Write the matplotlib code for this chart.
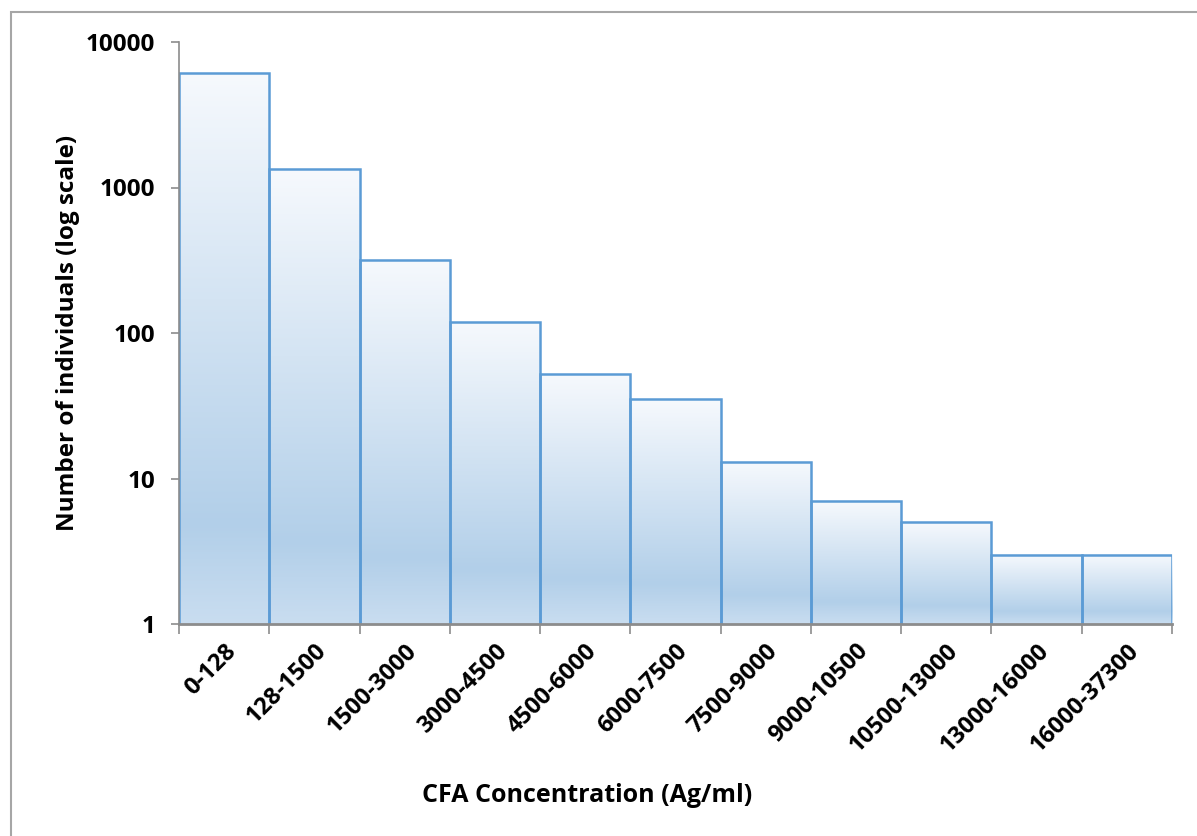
import numpy as np
import matplotlib
matplotlib.use("Agg")
import matplotlib.pyplot as plt
from matplotlib.colors import LinearSegmentedColormap
from matplotlib.patches import Rectangle
from matplotlib.transforms import Bbox, TransformedBbox, BboxTransformTo

# CFA concentration classes and counts of individuals
categories = ["0-128", "128-1500", "1500-3000", "3000-4500", "4500-6000",
              "6000-7500", "7500-9000", "9000-10500", "10500-13000",
              "13000-16000", "16000-37300"]
counts = [6100, 1340, 318, 119, 52, 35, 13, 7, 5, 3, 3]
y_ticks = [1, 10, 100, 1000, 10000]
y_tick_labels = ["1", "10", "100", "1000", "10000"]

plt.rcParams["font.family"] = ["Open Sans", "DejaVu Sans"]
plt.rcParams["font.weight"] = "bold"

W, H = 1197, 836
fig = plt.figure(figsize=(W / 100, H / 100), dpi=100)
fig.patch.set_facecolor("white")

# chart-area frame
fig.patches.append(Rectangle((10.5 / W, -0.1), 2.0, 1 - 12.5 / H + 0.1,
                             transform=fig.transFigure, fill=False,
                             edgecolor="#a6a6a6", linewidth=1.5))

ax = fig.add_axes([179 / W, 1 - 624 / H, (1172 - 179) / W, (624 - 42) / H])
ax.set_yscale("log")
ax.set_ylim(1, 10000)
n = len(categories)
ax.set_xlim(0, n)

grad_cmap = LinearSegmentedColormap.from_list(
    "barfill", [(0.0, "#c9ddf0"), (0.18, "#b2cfe9"), (1.0, "#f6f9fd")])
grad = np.linspace(0, 1, 256).reshape(-1, 1)

edge = "#5b9bd5"
for i, v in enumerate(counts):
    bb = TransformedBbox(Bbox([[i, 1], [i + 1, v]]), ax.transData)
    ax.imshow(grad, cmap=grad_cmap, aspect="auto", origin="lower",
              extent=(0, 1, 0, 1), transform=BboxTransformTo(bb),
              interpolation="bilinear", zorder=1)
bars = ax.bar(np.arange(n) + 0.5, counts, width=1.0, bottom=0,
              facecolor="none", edgecolor=edge, linewidth=1.8, zorder=2)

for s in ("top", "right"):
    ax.spines[s].set_visible(False)
for s in ("left", "bottom"):
    ax.spines[s].set_color("#8c8c8c")
    ax.spines[s].set_linewidth(1.2)
    ax.spines[s].set_zorder(3)
ax.spines["bottom"].set_linewidth(2.0)

ax.set_yticks(y_ticks)
ax.set_yticklabels(y_tick_labels)
ax.yaxis.set_minor_locator(matplotlib.ticker.NullLocator())
ax.tick_params(axis="y", length=6, width=1.2, color="#8c8c8c",
               labelsize=17.5, pad=11)

ax.set_xticks(np.arange(n + 1), minor=True)
ax.set_xticks(np.arange(n) + 0.5)
ax.set_xticklabels(categories, rotation=45, ha="right", va="top",
                   rotation_mode="anchor")
ax.tick_params(axis="x", which="major", length=0, labelsize=17, pad=11)
ax.tick_params(axis="x", which="minor", length=7, width=1.2, color="#8c8c8c")
for lbl in ax.get_xticklabels() + ax.get_yticklabels():
    lbl.set_fontweight("bold")

ax.set_xlabel("CFA Concentration (Ag/ml)", fontsize=18, fontweight="bold")
ax.xaxis.set_label_coords((587 - 179) / (1172 - 179), -(795 - 624) / (624 - 42))
ax.xaxis.label.set_verticalalignment("center")
ax.set_ylabel("Number of individuals (log scale)", fontsize=17.5,
              fontweight="bold", labelpad=4)

fig.savefig("out.png", dpi=100, facecolor="white")
